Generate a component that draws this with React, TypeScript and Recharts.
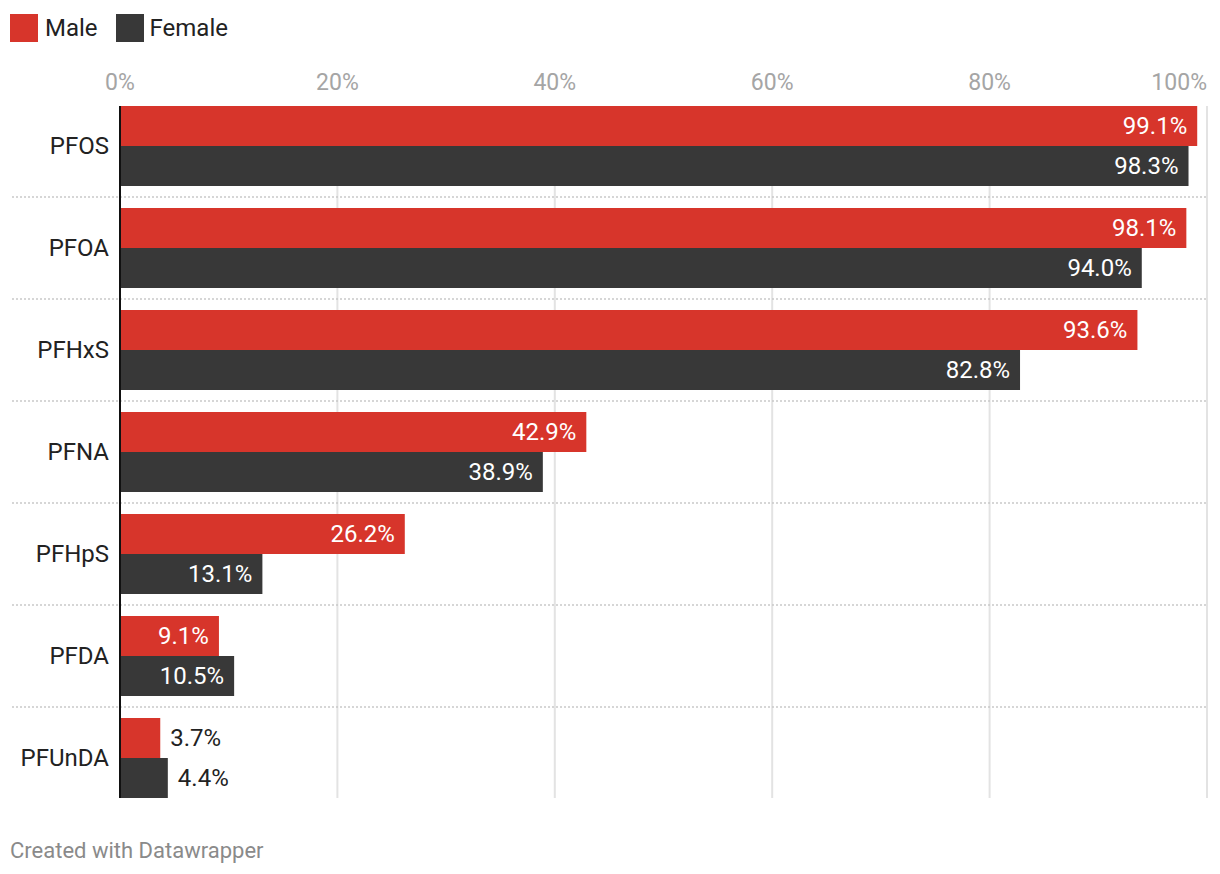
import React from "react";
import {
  BarChart, Bar, XAxis, YAxis, CartesianGrid, ReferenceLine, LabelList
} from "recharts";

// values (percent detected)
const compounds = ["PFOS", "PFOA", "PFHxS", "PFNA", "PFHpS", "PFDA", "PFUnDA"];
const male = [99.1, 98.1, 93.6, 42.9, 26.2, 9.1, 3.7];
const female = [98.3, 94.0, 82.8, 38.9, 13.1, 10.5, 4.4];
const xTicks = [0, 20, 40, 60, 80, 100];

const RED = "#d7352b";
const DARK = "#383838";
const FONT = "Roboto, 'Noto Sans', sans-serif";

const data = compounds.map((name, i) => ({ name, male: male[i], female: female[i] }));

const XTick = (props: any) => {
  const { x, y, payload } = props;
  const last = payload.value === 100;
  return (
    <text x={x} y={y} textAnchor={last ? "end" : "middle"} fill="#a5a5a5"
      fontSize={23} fontFamily={FONT}>
      {payload.value}%
    </text>
  );
};

const YTick = (props: any) => {
  const { x, y, payload } = props;
  return (
    <text x={x} y={y} dy="0.34em" textAnchor="end" fill="#222"
      fontSize={24} fontFamily={FONT}>
      {payload.value}
    </text>
  );
};

const ValueLabel = (props: any) => {
  const { x, y, width, height, value } = props;
  const inside = value > 6;
  return (
    <text
      x={inside ? x + width - 10 : x + width + 10}
      y={y + height / 2}
      dy="0.34em"
      textAnchor={inside ? "end" : "start"}
      fill={inside ? "#fff" : "#222"}
      fontSize={24}
      fontFamily={FONT}
    >
      {value.toFixed(1)}%
    </text>
  );
};

const gridLine = (props: any) => {
  if (props.index === 0) return null;
  return (
    <line key={props.key} x1={props.x1} x2={props.x2} y1={props.y1 + 11} y2={props.y2 - 11}
      stroke="#e3e3e3" strokeWidth={2} />
  );
};

export default function App() {
  return (
    <div style={{ position: "absolute", left: 0, top: 0, width: 1220, height: 874, background: "#fff", fontFamily: FONT }}>
      <div style={{ position: "absolute", left: 10, top: 14, display: "flex", alignItems: "center", fontSize: 24, color: "#222" }}>
        <span style={{ width: 28, height: 28, background: RED, display: "inline-block" }} />
        <span style={{ marginLeft: 7 }}>Male</span>
        <span style={{ width: 28, height: 28, background: DARK, display: "inline-block", marginLeft: 18 }} />
        <span style={{ marginLeft: 6 }}>Female</span>
      </div>
      <BarChart
        width={1220}
        height={820}
        data={data}
        layout="vertical"
        margin={{ top: 60, right: 13, left: 0, bottom: 11 }}
        barGap={0}
        barSize={40}
      >
        <CartesianGrid horizontal={false} vertical={gridLine} />
        <XAxis
          type="number"
          orientation="top"
          domain={[0, 100]}
          ticks={xTicks}
          height={35}
          axisLine={false}
          tickLine={false}
          tickSize={0}
          tickMargin={5}
          tick={<XTick />}
          interval={0}
        />
        <YAxis
          type="category"
          dataKey="name"
          width={120}
          axisLine={false}
          tickLine={false}
          tickSize={0}
          tickMargin={11}
          tick={<YTick />}
          interval={0}
        />
        {compounds.slice(1).map((c) => (
          <ReferenceLine
            key={c}
            y={c}
            position="start"
            shape={(p: any) => (
              <line x1={12} x2={p.x2} y1={p.y1} y2={p.y2} stroke="#c9c9c9" strokeWidth={1.5} strokeDasharray="2 2" />
            )}
          />
        ))}
        <Bar dataKey="male" fill={RED} isAnimationActive={false}>
          <LabelList dataKey="male" content={<ValueLabel />} />
        </Bar>
        <Bar dataKey="female" fill={DARK} isAnimationActive={false}>
          <LabelList dataKey="female" content={<ValueLabel />} />
        </Bar>
        <ReferenceLine
          x={0}
          shape={(p: any) => (
            <line x1={p.x1} x2={p.x2} y1={p.y1 + 11} y2={p.y2 - 11} stroke="#111" strokeWidth={2} />
          )}
        />
      </BarChart>
      <div style={{ position: "absolute", left: 10, top: 838, fontSize: 22, color: "#8a8a8a" }}>
        Created with Datawrapper
      </div>
    </div>
  );
}
